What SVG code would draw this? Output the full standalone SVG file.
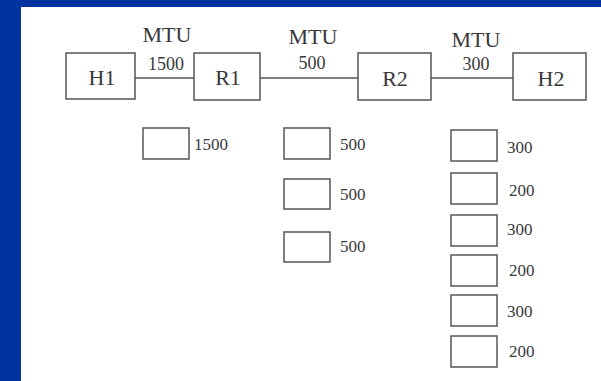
<svg xmlns="http://www.w3.org/2000/svg" width="601" height="381" viewBox="0 0 601 381">
<style>
.box{fill:#fff;stroke:#555;stroke-width:1.5}
.t{font-family:"Liberation Serif",serif;fill:#383838}
.big{font-size:22px;text-anchor:middle}
.mtu{font-size:22px;text-anchor:middle}
.num{font-size:17px}
.top{font-size:18px;text-anchor:middle}
.conn line{stroke:#555;stroke-width:1.5}
</style>
<rect x="0" y="0" width="601" height="381" fill="#0033a0"/>
<rect x="21" y="7" width="580" height="374" fill="#fff"/>
<g class="conn">
<line x1="135" y1="78" x2="194" y2="78"/>
<line x1="260" y1="78" x2="358" y2="78"/>
<line x1="431" y1="78" x2="513" y2="78"/>
</g>
<g id="H1"><rect class="box" x="66" y="53" width="69" height="46"/><text class="t big" x="102" y="85">H1</text></g>
<g id="R1"><rect class="box" x="194" y="53" width="66" height="47"/><text class="t big" x="228" y="85">R1</text></g>
<g id="R2"><rect class="box" x="358" y="53" width="73" height="47"/><text class="t big" x="395" y="86">R2</text></g>
<g id="H2"><rect class="box" x="513" y="53" width="73" height="47"/><text class="t big" x="551" y="86">H2</text></g>
<g id="labels">
<text class="t mtu" x="167" y="42">MTU</text>
<text class="t top" x="166" y="70">1500</text>
<text class="t mtu" x="313" y="44">MTU</text>
<text class="t top" x="312" y="69">500</text>
<text class="t mtu" x="476" y="47">MTU</text>
<text class="t top" x="476" y="70">300</text>
</g>
<g id="col1"><rect class="box" x="143" y="128" width="46" height="31"/><text class="t num" x="194" y="150">1500</text></g>
<g id="col2">
<rect class="box" x="284" y="128" width="46" height="31"/><text class="t num" x="340" y="150">500</text>
<rect class="box" x="284" y="179" width="46" height="30"/><text class="t num" x="340" y="200">500</text>
<rect class="box" x="284" y="232" width="46" height="30"/><text class="t num" x="340" y="252">500</text>
</g>
<g id="col3">
<rect class="box" x="451" y="130" width="46" height="31"/><text class="t num" x="507" y="153">300</text>
<rect class="box" x="451" y="173" width="46" height="31"/><text class="t num" x="509" y="196">200</text>
<rect class="box" x="451" y="215" width="46" height="31"/><text class="t num" x="507" y="235">300</text>
<rect class="box" x="451" y="255" width="46" height="31"/><text class="t num" x="509" y="276">200</text>
<rect class="box" x="451" y="295" width="46" height="31"/><text class="t num" x="507" y="317">300</text>
<rect class="box" x="451" y="336" width="46" height="31"/><text class="t num" x="509" y="357">200</text>
</g>
</svg>
